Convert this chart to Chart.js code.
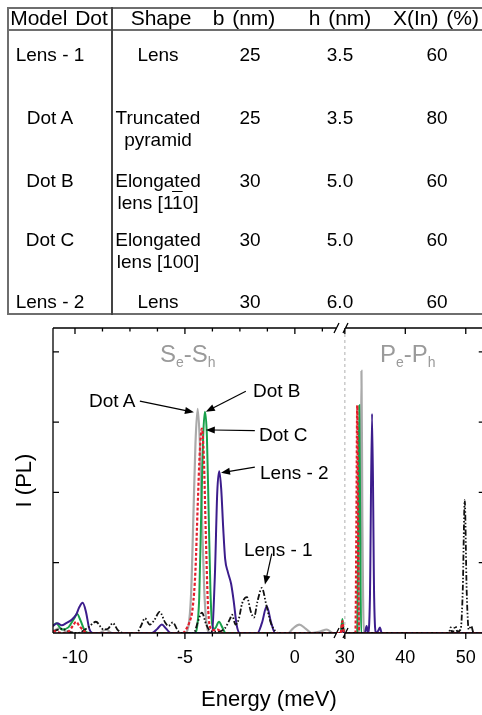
<!DOCTYPE html>
<html>
<head>
<meta charset="utf-8">
<script src="https://cdn.jsdelivr.net/npm/chart.js@4.4.0/dist/chart.umd.min.js"></script>
<style>
  html, body { margin: 0; padding: 0; background: #fff; overflow: hidden; width: 482px; height: 715px; }
  body { position: relative; font-family: "Liberation Sans", Arial, sans-serif; color: #000; }
  #chart { position: absolute; left: 0; top: 0; }
  .t { position: absolute; width: 200px; text-align: center; font-size: 19px; line-height: 22px; white-space: nowrap; z-index: 2; }
  .t.h { font-size: 21px; word-spacing: 2px; }
  .note { position: absolute; font-size: 19px; line-height: 22px; white-space: nowrap; z-index: 2; }
  .band { position: absolute; font-size: 24px; line-height: 24px; color: #9a9a9a; white-space: nowrap; z-index: 2; }
  .band sub { font-size: 14px; vertical-align: -5px; }
  .line { position: absolute; background: #6e6e6e; z-index: 1; }
</style>
</head>
<body>
<div class="line" style="left:7px;top:7px;width:480px;height:2px"></div>
<div class="line" style="left:7px;top:29px;width:480px;height:2px"></div>
<div class="line" style="left:7px;top:313px;width:480px;height:2px"></div>
<div class="line" style="left:7px;top:7px;width:2px;height:308px"></div>
<div class="line" style="left:111px;top:7px;width:2px;height:308px;background:#444"></div>
<div id="table"></div>

<div class="band" style="left:160px;top:342px">S<sub>e</sub>-S<sub>h</sub></div>
<div class="band" style="left:380px;top:342px">P<sub>e</sub>-P<sub>h</sub></div>
<div class="note" style="left:89px;top:390px">Dot A</div>
<div class="note" style="left:253px;top:380px">Dot B</div>
<div class="note" style="left:259px;top:424px">Dot C</div>
<div class="note" style="left:260px;top:462px">Lens - 2</div>
<div class="note" style="left:244px;top:539px">Lens - 1</div>

<canvas id="chart" width="490" height="715"></canvas>

<script>
// table text
const tableHeader = ['Model Dot', 'Shape', 'b (nm)', 'h (nm)', 'X(In) (%)'];
const tableRows = [
  ['Lens - 1', 'Lens', '25', '3.5', '60'],
  ['Dot A', 'Truncated<br>pyramid', '25', '3.5', '80'],
  ['Dot B', 'Elongated<br>lens [1<span style="text-decoration:overline">1</span>0]', '30', '5.0', '60'],
  ['Dot C', 'Elongated<br>lens [100]', '30', '5.0', '60'],
  ['Lens - 2', 'Lens', '30', '6.0', '60']
];
const headerX = [59, 161, 244, 340, 436];
const cellX = [50, 158, 250, 340, 437];
const rowY = [55, 118, 181, 240, 302];

// spectra, [energy meV, intensity]
const lens1 = [[-11,0.02],[-10.6,0.06],[-10.3,0.02],[-9.9,0],[-9.4,0.08],[-9.05,0.16],[-8.7,0.05],[-8.5,0.06],[-8.28,0.14],[-8.05,0.04],[-7.8,0],[-7.2,0],[-7.0,0.1],[-6.82,0.21],[-6.6,0.12],[-6.4,0.18],[-6.15,0.3],[-5.9,0.15],[-5.75,0.1],[-5.55,0.15],[-5.35,0.05],[-5.2,0],[-4.6,0],[-4.42,0.15],[-4.23,0.29],[-4.03,0.12],[-3.85,0.03],[-3.55,0.02],[-3.2,0.06],[-2.95,0.2],[-2.86,0.26],[-2.7,0.12],[-2.55,0.2],[-2.4,0.42],[-2.18,0.51],[-2.0,0.3],[-1.86,0.22],[-1.7,0.45],[-1.5,0.64],[-1.3,0.4],[-1.1,0.15],[-0.9,0.03],[-0.75,0],[1.9,0],[29.3,0],[29.6,0.12],[29.85,0],[47.2,0],[47.5,0.08],[47.8,0],[48.3,0.1],[48.6,0.02],[49.15,0.05],[49.5,0.6],[49.83,1.89],[50.15,0.6],[50.5,0.05],[50.9,0.1],[51.3,0],[53.2,0]];
const dotA = [[-11,0.02],[-10.7,0.07],[-10.4,0.02],[-10.0,0],[-8.9,0],[-8.6,0.05],[-8.3,0],[-5.0,0],[-4.85,0.08],[-4.72,0.55],[-4.62,1.6],[-4.52,2.7],[-4.42,3.19],[-4.32,2.7],[-4.22,1.6],[-4.12,0.6],[-4.0,0.1],[-3.85,0],[-0.3,0],[-0.1,0.06],[0.2,0.12],[0.5,0.06],[0.75,0],[1.15,0.02],[1.45,0.05],[1.75,0],[1.9,0],[29.3,0],[29.6,0.05],[29.9,0],[32.35,0],[32.6,1.6],[32.75,3.73],[32.9,1.6],[33.15,0],[53.2,0]];
const dotB = [[-11,0.1],[-10.85,0.14],[-10.6,0.05],[-10.3,0.08],[-10.05,0.2],[-9.9,0.27],[-9.75,0.18],[-9.55,0.03],[-9.35,0],[-4.55,0],[-4.45,0.08],[-4.35,0.5],[-4.26,1.7],[-4.17,2.8],[-4.09,3.15],[-4.0,2.8],[-3.92,1.7],[-3.84,0.6],[-3.75,0.1],[-3.65,0.06],[-3.45,0.16],[-3.3,0.08],[-3.15,0],[1.9,0],[29.3,0],[29.6,0.2],[29.85,0],[32.05,0],[32.2,1.4],[32.38,3.24],[32.55,1.4],[32.7,0],[53.2,0]];
const dotC = [[-11,0.03],[-10.6,0],[-10.3,0.02],[-10.1,0.1],[-9.95,0.16],[-9.8,0.1],[-9.6,0.03],[-9.4,0],[-5.1,0],[-4.95,0.05],[-4.8,0.15],[-4.65,0.35],[-4.52,0.9],[-4.42,1.8],[-4.32,2.6],[-4.23,2.91],[-4.14,2.5],[-4.05,1.4],[-3.96,0.45],[-3.87,0.1],[-3.7,0.04],[-3.5,0.05],[-3.3,0],[1.9,0],[29.3,0],[29.6,0.17],[29.85,0],[31.75,0],[31.9,1.4],[32.05,3.24],[32.2,1.4],[32.35,0],[53.2,0]];
const lens2 = [[-11,0.1],[-10.8,0.14],[-10.6,0.11],[-10.4,0.14],[-10.15,0.19],[-9.95,0.26],[-9.8,0.37],[-9.65,0.43],[-9.5,0.3],[-9.35,0.06],[-9.2,0],[-6.5,0],[-6.25,0.06],[-6.05,0.12],[-5.85,0.06],[-5.65,0],[-3.78,0],[-3.64,0.8],[-3.53,2.0],[-3.44,2.3],[-3.35,2.05],[-3.26,1.5],[-3.17,1.05],[-3.05,0.87],[-2.9,0.7],[-2.78,0.45],[-2.65,0.12],[-2.5,0],[-1.7,0],[-1.5,0.14],[-1.28,0.38],[-1.08,0.15],[-0.9,0],[1.9,0],[29.3,0],[29.6,0.04],[29.9,0],[33.3,0],[33.6,0.1],[33.85,0],[34.15,0.5],[34.5,3.12],[34.85,0.5],[35.15,0],[35.5,0.03],[35.8,0.08],[36.1,0],[53.2,0]];

// axis ticks
const xMajor = [-10, -5, 0, 30, 40, 50];
const xLabels = ['-10', '-5', '0', '30', '40', '50'];
const xMinor = [-8.75, -7.5, -6.25, -3.75, -2.5, -1.25, 1.25];
const yMajor = [1, 2, 3, 4];
const breakLine = 30;

// arrows [from, to] in (energy, intensity)
const arrows = [
  [[-7.05, 3.30], [-4.59, 3.14]],
  [[-2.23, 3.44], [-4.05, 3.15]],
  [[-1.82, 2.88], [-4.05, 2.89]],
  [[-1.82, 2.36], [-3.36, 2.28]],
  [[-1.05, 1.13], [-1.36, 0.69]]
];

// broken axis: right part (P-P) is squeezed
function toU(x) {
  return x <= 10 ? x : 2.2727 + (x - 30) * 0.275;
}

let html = '';
tableHeader.forEach((h, i) => {
  html += `<div class="t h" style="left:${headerX[i] - 100}px;top:${19 - 12}px">${h}</div>`;
});
tableRows.forEach((row, r) => {
  row.forEach((c, i) => {
    html += `<div class="t" style="left:${cellX[i] - 100}px;top:${rowY[r] - 11}px">${c}</div>`;
  });
});
document.getElementById('table').innerHTML = html;

function series(label, pts, color, width, dash) {
  return {
    label: label,
    data: pts.map(p => ({x: toU(p[0]), y: p[1]})),
    borderColor: color,
    borderWidth: width,
    borderDash: dash,
    pointRadius: 0,
    fill: false,
    cubicInterpolationMode: 'monotone'
  };
}

function arrow(ctx, x1, y1, x2, y2) {
  const a = Math.atan2(y2 - y1, x2 - x1);
  ctx.beginPath();
  ctx.moveTo(x1, y1);
  ctx.lineTo(x2 - 7 * Math.cos(a), y2 - 7 * Math.sin(a));
  ctx.stroke();
  ctx.beginPath();
  ctx.moveTo(x2, y2);
  ctx.lineTo(x2 - 9 * Math.cos(a) + 3.5 * Math.sin(a), y2 - 9 * Math.sin(a) - 3.5 * Math.cos(a));
  ctx.lineTo(x2 - 9 * Math.cos(a) - 3.5 * Math.sin(a), y2 - 9 * Math.sin(a) + 3.5 * Math.cos(a));
  ctx.closePath();
  ctx.fill();
}

const decor = {
  id: 'decor',
  beforeDatasetsDraw(chart) {
    const {ctx, chartArea: a, scales: {x}} = chart;
    const px = x.getPixelForValue(toU(breakLine));
    ctx.save();
    ctx.strokeStyle = '#bdbdbd';
    ctx.lineWidth = 1.2;
    ctx.setLineDash([3, 3]);
    ctx.beginPath();
    ctx.moveTo(px, a.top);
    ctx.lineTo(px, a.bottom);
    ctx.stroke();
    ctx.restore();
  },
  afterDatasetsDraw(chart) {
    const {ctx, chartArea: a, scales: {x, y}} = chart;
    ctx.save();
    ctx.strokeStyle = '#000';
    ctx.fillStyle = '#000';
    ctx.lineWidth = 1.3;
    const b1 = 337, b2 = 346;
    ctx.beginPath();
    ctx.moveTo(a.left, a.top); ctx.lineTo(a.left, a.bottom);
    ctx.moveTo(a.right, a.top); ctx.lineTo(a.right, a.bottom);
    [a.top, a.bottom].forEach(yy => {
      ctx.moveTo(a.left, yy); ctx.lineTo(b1, yy);
      ctx.moveTo(b2, yy); ctx.lineTo(a.right, yy);
      ctx.moveTo(b1 - 3, yy + 5); ctx.lineTo(b1 + 2, yy - 5);
      ctx.moveTo(b2 - 3, yy + 5); ctx.lineTo(b2 + 2, yy - 5);
    });
    // x ticks: outside at bottom, inside at top
    xMajor.forEach(v => {
      const px = x.getPixelForValue(toU(v));
      ctx.moveTo(px, a.bottom); ctx.lineTo(px, a.bottom + 6);
      ctx.moveTo(px, a.top); ctx.lineTo(px, a.top + 6);
    });
    xMinor.forEach(v => {
      const px = x.getPixelForValue(toU(v));
      ctx.moveTo(px, a.bottom); ctx.lineTo(px, a.bottom + 3.5);
      ctx.moveTo(px, a.top); ctx.lineTo(px, a.top + 3.5);
    });
    yMajor.forEach(v => {
      const py = y.getPixelForValue(v);
      ctx.moveTo(a.left, py); ctx.lineTo(a.left + 6, py);
      ctx.moveTo(a.right, py); ctx.lineTo(a.right - 6, py);
    });
    ctx.stroke();
    ctx.lineWidth = 1.2;
    arrows.forEach(([p, q]) => {
      arrow(ctx, x.getPixelForValue(toU(p[0])), y.getPixelForValue(p[1]),
        x.getPixelForValue(toU(q[0])), y.getPixelForValue(q[1]));
    });
    ctx.restore();
  }
};

Chart.defaults.font.family = '"Liberation Sans", Arial, sans-serif';
Chart.defaults.color = '#000';

new Chart(document.getElementById('chart'), {
  type: 'line',
  data: {
    datasets: [
      series('Dot C', dotC, '#e31f2d', 2.2, [3, 2]),
      series('Lens - 1', lens1, '#111111', 1.8, [6, 2, 1.5, 2, 1.5, 2]),
      series('Lens - 2', lens2, '#3c1d8c', 2, []),
      series('Dot B', dotB, '#18a04a', 2, []),
      series('Dot A', dotA, '#aaaaaa', 2.2, [])
    ]
  },
  options: {
    responsive: false,
    animation: false,
    layout: {padding: {top: 328, right: 5, bottom: 0, left: 0}},
    plugins: {legend: {display: false}, tooltip: {enabled: false}},
    scales: {
      x: {
        type: 'linear',
        min: -11,
        max: 8.636,
        afterBuildTicks: axis => { axis.ticks = xMajor.map(v => ({value: toU(v)})); },
        ticks: {
          autoSkip: false,
          maxRotation: 0,
          padding: 14,
          font: {size: 18},
          callback: (v, i) => xLabels[i]
        },
        grid: {display: false, drawTicks: false},
        border: {display: false},
        title: {display: true, text: 'Energy (meV)', font: {size: 22}, padding: {top: 4, bottom: 2}}
      },
      y: {
        min: 0,
        max: 4.34,
        ticks: {display: false},
        grid: {display: false, drawTicks: false},
        border: {display: false},
        title: {display: true, text: 'I (PL)', font: {size: 22}, padding: {top: 12, bottom: 14.6}}
      }
    }
  },
  plugins: [decor]
});
</script>
</body>
</html>
